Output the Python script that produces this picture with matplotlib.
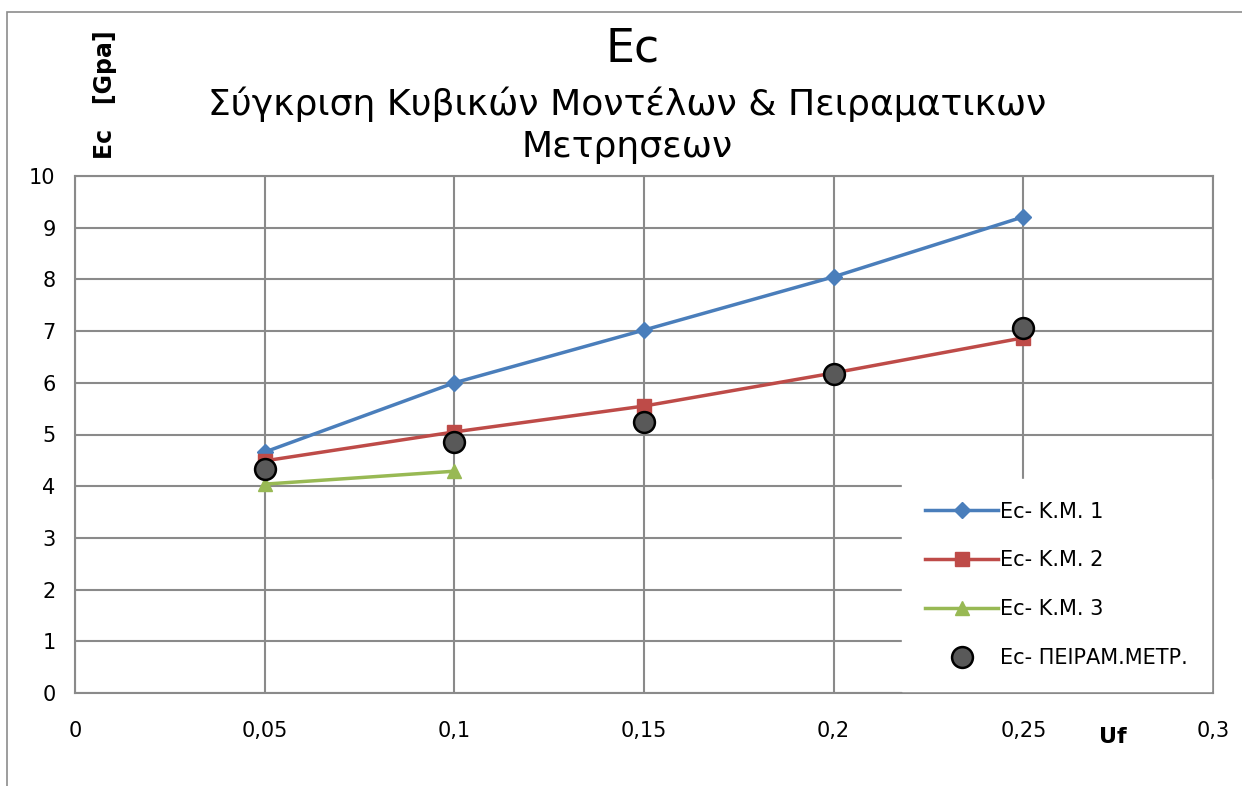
import matplotlib
matplotlib.use("Agg")
import matplotlib.pyplot as plt
from matplotlib.patches import Rectangle

# volume fraction Uf and modulus Ec [GPa]
uf = [0.05, 0.10, 0.15, 0.20, 0.25]
km1 = [4.66, 6.00, 7.02, 8.05, 9.21]
km2 = [4.49, 5.05, 5.55, 6.19, 6.87]
uf_km3 = [0.05, 0.10]
km3 = [4.04, 4.29]
exp_meas = [4.33, 4.85, 5.24, 6.17, 7.06]

xticks = [0, 0.05, 0.10, 0.15, 0.20, 0.25, 0.30]
xtick_labels = ["0", "0,05", "0,1", "0,15", "0,2", "0,25", "0,3"]
yticks = list(range(0, 11))

plt.rcParams["font.family"] = ["DejaVu Sans"]

fig = plt.figure(figsize=(12.42, 7.86), dpi=100)
fig.patches.append(Rectangle((7 / 1242, -0.01), 1.02, 1 - 12 / 786 + 0.01,
                             transform=fig.transFigure, fill=False,
                             edgecolor="#8c8c8c", linewidth=1.2))

ax = fig.add_axes([75 / 1242, 1 - 693 / 786, (1213 - 75) / 1242, (693 - 176) / 786])

grid_c = "#8a8a8a"
ax.set_axisbelow(True)
ax.grid(True, color=grid_c, linewidth=1.5)
for s in ax.spines.values():
    s.set_color(grid_c)
    s.set_linewidth(1.5)

ax.plot(uf, km1, color="#4a7ebb", lw=2.5, marker="D", ms=8, label="Ec- Κ.Μ. 1")
ax.plot(uf, km2, color="#be4b48", lw=2.5, marker="s", ms=10, label="Ec- Κ.Μ. 2")
ax.plot(uf_km3, km3, color="#98b954", lw=2.5, marker="^", ms=10, label="Ec- Κ.Μ. 3")
ax.plot(uf, exp_meas, ls="none", marker="o", ms=15, mfc="#595959", mec="black",
        mew=1.8, label="Ec- ΠΕΙΡΑΜ.ΜΕΤΡ.", zorder=5)

ax.set_xlim(0, 0.3)
ax.set_ylim(0, 10)
ax.set_xticks(xticks)
ax.set_xticklabels(xtick_labels)
ax.set_yticks(yticks)
ax.tick_params(length=0, labelsize=15, colors="black")
ax.tick_params(axis="x", pad=20)
ax.tick_params(axis="y", pad=14)

leg = ax.legend(loc="lower right", bbox_to_anchor=(1.0, 0.0), frameon=True,
                fontsize=15, labelspacing=1.38, handlelength=3.5,
                handletextpad=0.1, borderpad=1.1, borderaxespad=0.1,
                fancybox=False)
leg.get_frame().set_edgecolor("white")
leg.get_frame().set_facecolor("white")
leg.get_frame().set_alpha(1.0)

fig.text(633 / 1242, 1 - 49 / 786, "Ec", ha="center", va="center", fontsize=33)
fig.text(627 / 1242, 1 - 125 / 786,
         "Σύγκριση Κυβικών Μοντέλων & Πειραματικων\nΜετρησεων",
         ha="center", va="center", fontsize=26, linespacing=1.3)
fig.text(105 / 1242, 1 - 95 / 786, "Ec   [Gpa]", rotation=90, ha="center",
         va="center", fontsize=17, fontweight="bold")
fig.text(1113 / 1242, 1 - 737 / 786, "Uf", ha="center", va="center",
         fontsize=16, fontweight="bold")

fig.savefig("out.png", dpi=100)
